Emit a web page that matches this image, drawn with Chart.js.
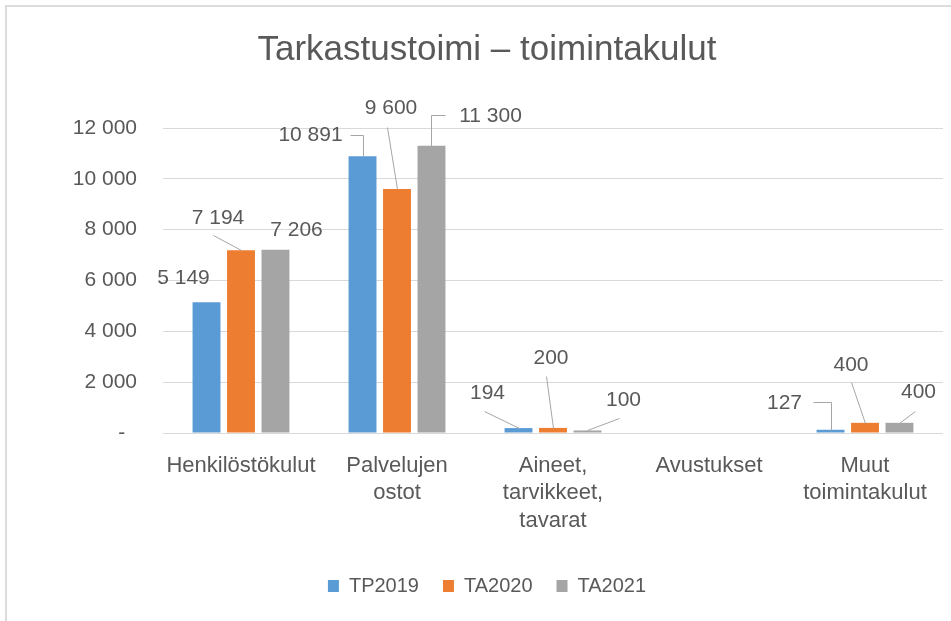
<!DOCTYPE html>
<html>
<head>
    <title>Tarkastustoimi</title>
    <style>
        body { margin: 0; background: #fff; overflow: hidden; }
        .frame {
            position: absolute; left: 5px; top: 5px; width: 990px; height: 630px;
            border-left: 2px solid #dcdcdc; border-top: 2px solid #dcdcdc;
        }
        #myChart { position: absolute; left: 0; top: 0; }
    </style>
</head>
<body>
<div class="frame"></div>
<canvas id="myChart" width="951" height="621"></canvas>
<script src="https://cdn.jsdelivr.net/npm/chart.js"></script>
<script>
    // kategoriat ja sarjat
    const categories = [
        ['Henkilöstökulut'],
        ['Palvelujen', 'ostot'],
        ['Aineet,', 'tarvikkeet,', 'tavarat'],
        ['Avustukset'],
        ['Muut', 'toimintakulut']
    ];
    const tp2019 = [5149, 10891, 194, null, 127];
    const ta2020 = [7194, 9600, 200, null, 400];
    const ta2021 = [7206, 11300, 100, null, 400];
    const yTicks = [0, 2000, 4000, 6000, 8000, 10000, 12000];

    const textColor = '#595959';
    const fontFamily = '"Liberation Sans", Arial, sans-serif';

    // arvojen sijainnit suhteessa pylvään yläreunaan: [dx, dy, viiva]
    const labelPlacement = [
        [[-23, -24, null], [-52, -21, [[-13, -21], [0, -21], [0, 0]]], [-31, -35, [[-35, -17], [0, 0]]], null, [-46, -27, [[-18, -28], [0, -28], [0, 0]]]],
        [[-23, -32, [[-28, -15], [0, 0]]], [-6, -81, [[-10, -62], [0, 0]]], [-2, -70, [[-7, -52], [0, 0]]], null, [-14, -58, [[-14, -41], [0, 0]]]],
        [[21, -20, null], [59, -30, [[14, -31], [0, -31], [0, 0]]], [36, -30, [[32, -12], [0, 0]]], null, [19, -31, [[16, -12], [0, 0]]]]
    ];

    function formatNumber(v) {
        return String(v).replace(/\B(?=(\d{3})+(?!\d))/g, ' ');
    }

    const dataLabels = {
        id: 'dataLabels',
        afterDatasetsDraw(chart) {
            const ctx = chart.ctx;
            ctx.save();
            chart.data.datasets.forEach((ds, di) => {
                const meta = chart.getDatasetMeta(di);
                meta.data.forEach((bar, i) => {
                    const v = ds.data[i];
                    const place = labelPlacement[di][i];
                    if (v === null || !place) return;
                    const [dx, dy, leader] = place;
                    if (leader) {
                        ctx.strokeStyle = '#a6a6a6';
                        ctx.lineWidth = 1;
                        ctx.beginPath();
                        leader.forEach((p, k) => {
                            const px = Math.round(bar.x + p[0]) + 0.5;
                            const py = Math.round(bar.y + p[1]) + 0.5;
                            if (k === 0) ctx.moveTo(px, py); else ctx.lineTo(px, py);
                        });
                        ctx.stroke();
                    }
                    ctx.fillStyle = textColor;
                    ctx.font = '21px ' + fontFamily;
                    ctx.textAlign = 'center';
                    ctx.textBaseline = 'middle';
                    ctx.fillText(formatNumber(v), bar.x + dx, bar.y + dy);
                });
            });
            ctx.restore();
        }
    };

    const chartConfig = {
        type: 'bar',
        data: {
            labels: categories,
            datasets: [
                {label: 'TP2019', data: tp2019, backgroundColor: '#5b9bd5'},
                {label: 'TA2020', data: ta2020, backgroundColor: '#ed7d31'},
                {label: 'TA2021', data: ta2021, backgroundColor: '#a5a5a5'}
            ]
        },
        options: {
            responsive: false,
            animation: false,
            devicePixelRatio: 1,
            categoryPercentage: 0.663,
            barPercentage: 0.81,
            layout: {padding: {left: 31, right: 8, top: 0, bottom: 15}},
            plugins: {
                title: {
                    display: true,
                    text: 'Tarkastustoimi – toimintakulut',
                    color: textColor,
                    font: {family: fontFamily, size: 35, weight: 'normal', lineHeight: 1.2},
                    padding: {top: 29, bottom: 57}
                },
                legend: {
                    position: 'bottom',
                    labels: {
                        color: textColor,
                        font: {family: fontFamily, size: 20},
                        boxWidth: 11,
                        boxHeight: 12,
                        padding: 24
                    }
                },
                tooltip: {enabled: false}
            },
            scales: {
                x: {
                    grid: {display: false, drawTicks: false},
                    border: {display: false},
                    ticks: {
                        color: textColor,
                        font: {family: fontFamily, size: 22, lineHeight: 1.25},
                        padding: 19,
                        maxRotation: 0,
                        autoSkip: false
                    },
                    afterFit(scale) { scale.height = 119; }
                },
                y: {
                    min: 0,
                    max: 12000,
                    afterBuildTicks(scale) { scale.ticks = yTicks.map(v => ({value: v})); },
                    grid: {color: '#d9d9d9', drawTicks: false},
                    border: {display: false},
                    ticks: {
                        color: textColor,
                        font: {family: fontFamily, size: 21},
                        padding: 26,
                        callback: v => v === 0 ? '-  ' : formatNumber(v)
                    },
                    afterFit(scale) { scale.width = 132; }
                }
            }
        },
        plugins: [dataLabels]
    };

    const canvas = document.getElementById('myChart');
    const chart = new Chart(canvas, chartConfig);
</script>
</body>
</html>
